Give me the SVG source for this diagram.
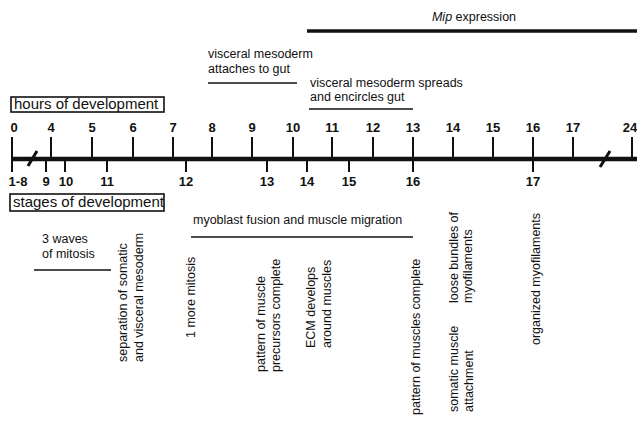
<svg xmlns="http://www.w3.org/2000/svg" width="637" height="422" viewBox="0 0 637 422">
<style>
text{font-family:"Liberation Sans",Arial,sans-serif;fill:#111}
.t{font-size:12.5px}
.n{font-size:13px;font-weight:bold;text-anchor:middle}
.h{font-size:15px}
.ln{stroke:#111;stroke-width:1.4;fill:none}
.tk{stroke:#111;stroke-width:2;fill:none}
</style>
<rect width="637" height="422" fill="#fff"/>

<g id="mip">
<text x="474" y="21" class="t" text-anchor="middle"><tspan font-style="italic">Mip</tspan> expression</text>
<line x1="307" y1="31" x2="637" y2="31" stroke="#111" stroke-width="3.5"/>
</g>

<g id="attaches">
<text x="208" y="58" class="t">visceral mesoderm</text>
<text x="208" y="73" class="t">attaches to gut</text>
<line x1="208" y1="83" x2="297" y2="83" class="ln"/>
</g>

<g id="spreads">
<text x="310" y="87" class="t">visceral mesoderm spreads</text>
<text x="310" y="101" class="t">and encircles gut</text>
<line x1="309" y1="109" x2="413" y2="109" class="ln"/>
</g>

<g id="hours-box">
<rect x="11" y="97" width="153" height="15" fill="none" stroke="#111" stroke-width="1.6"/>
<text x="14" y="109" class="h">hours of development</text>
</g>

<g id="axis">
<line x1="12" y1="159" x2="637" y2="159" stroke="#111" stroke-width="4.5"/>
<g class="tk">
<line x1="12" y1="137" x2="12" y2="172"/>
<line x1="51" y1="137" x2="51" y2="159"/>
<line x1="92" y1="137" x2="92" y2="159"/>
<line x1="133" y1="137" x2="133" y2="159"/>
<line x1="173" y1="137" x2="173" y2="159"/>
<line x1="212" y1="137" x2="212" y2="159"/>
<line x1="252" y1="137" x2="252" y2="159"/>
<line x1="293" y1="137" x2="293" y2="159"/>
<line x1="332" y1="137" x2="332" y2="159"/>
<line x1="373" y1="137" x2="373" y2="159"/>
<line x1="413" y1="137" x2="413" y2="172"/>
<line x1="453" y1="137" x2="453" y2="159"/>
<line x1="493" y1="137" x2="493" y2="159"/>
<line x1="533" y1="137" x2="533" y2="172"/>
<line x1="573" y1="137" x2="573" y2="159"/>
<line x1="632" y1="137" x2="632" y2="159"/>
<line x1="46" y1="159" x2="46" y2="172"/>
<line x1="65" y1="159" x2="65" y2="172"/>
<line x1="107" y1="159" x2="107" y2="172"/>
<line x1="186" y1="159" x2="186" y2="172"/>
<line x1="267" y1="159" x2="267" y2="172"/>
<line x1="307" y1="159" x2="307" y2="172"/>
<line x1="349" y1="159" x2="349" y2="172"/>
</g>
<line x1="28" y1="166" x2="37" y2="151" stroke="#111" stroke-width="3"/>
<line x1="600" y1="167" x2="610" y2="151" stroke="#111" stroke-width="3"/>
</g>

<g id="hour-labels">
<text x="14" y="132" class="n">0</text>
<text x="51" y="132" class="n">4</text>
<text x="92" y="132" class="n">5</text>
<text x="133" y="132" class="n">6</text>
<text x="173" y="132" class="n">7</text>
<text x="212" y="132" class="n">8</text>
<text x="252" y="132" class="n">9</text>
<text x="293" y="132" class="n">10</text>
<text x="332" y="132" class="n">11</text>
<text x="373" y="132" class="n">12</text>
<text x="413" y="132" class="n">13</text>
<text x="453" y="132" class="n">14</text>
<text x="493" y="132" class="n">15</text>
<text x="533" y="132" class="n">16</text>
<text x="573" y="132" class="n">17</text>
<text x="630" y="132" class="n">24</text>
</g>

<g id="stage-labels">
<text x="18" y="186" class="n">1-8</text>
<text x="46" y="186" class="n">9</text>
<text x="66" y="186" class="n">10</text>
<text x="107" y="186" class="n">11</text>
<text x="186" y="186" class="n">12</text>
<text x="267" y="186" class="n">13</text>
<text x="307" y="186" class="n">14</text>
<text x="349" y="186" class="n">15</text>
<text x="413" y="186" class="n">16</text>
<text x="533" y="186" class="n">17</text>
</g>

<g id="stages-box">
<rect x="10" y="194" width="154" height="17" fill="none" stroke="#111" stroke-width="1.6"/>
<text x="13" y="207" class="h">stages of development</text>
</g>

<g id="waves">
<text x="42" y="243" class="t">3 waves</text>
<text x="42" y="258" class="t">of mitosis</text>
<line x1="34" y1="270" x2="111" y2="270" class="ln"/>
</g>

<g id="myoblast">
<text x="193" y="224" class="t">myoblast fusion and muscle migration</text>
<line x1="191" y1="237" x2="413" y2="237" class="ln"/>
</g>

<g id="separation">
<text transform="translate(127,362) rotate(-90)" class="t">separation of somatic</text>
<text transform="translate(143,362) rotate(-90)" class="t">and visceral mesoderm</text>
</g>
<g id="one-more">
<text transform="translate(195,338) rotate(-90)" class="t">1 more mitosis</text>
</g>
<g id="precursors">
<text transform="translate(265,372) rotate(-90)" class="t">pattern of muscle</text>
<text transform="translate(280,372) rotate(-90)" class="t">precursors complete</text>
</g>
<g id="ecm">
<text transform="translate(315,348) rotate(-90)" class="t">ECM develops</text>
<text transform="translate(331,348) rotate(-90)" class="t">around muscles</text>
</g>
<g id="pattern-complete">
<text transform="translate(420,415) rotate(-90)" class="t">pattern of muscles complete</text>
</g>
<g id="loose">
<text transform="translate(458,303) rotate(-90)" class="t">loose bundles of</text>
<text transform="translate(472,303) rotate(-90)" class="t">myofilaments</text>
</g>
<g id="somatic">
<text transform="translate(458,412) rotate(-90)" class="t">somatic muscle</text>
<text transform="translate(473,412) rotate(-90)" class="t">attachment</text>
</g>
<g id="organized">
<text transform="translate(540,345) rotate(-90)" class="t">organized myofilaments</text>
</g>
</svg>
